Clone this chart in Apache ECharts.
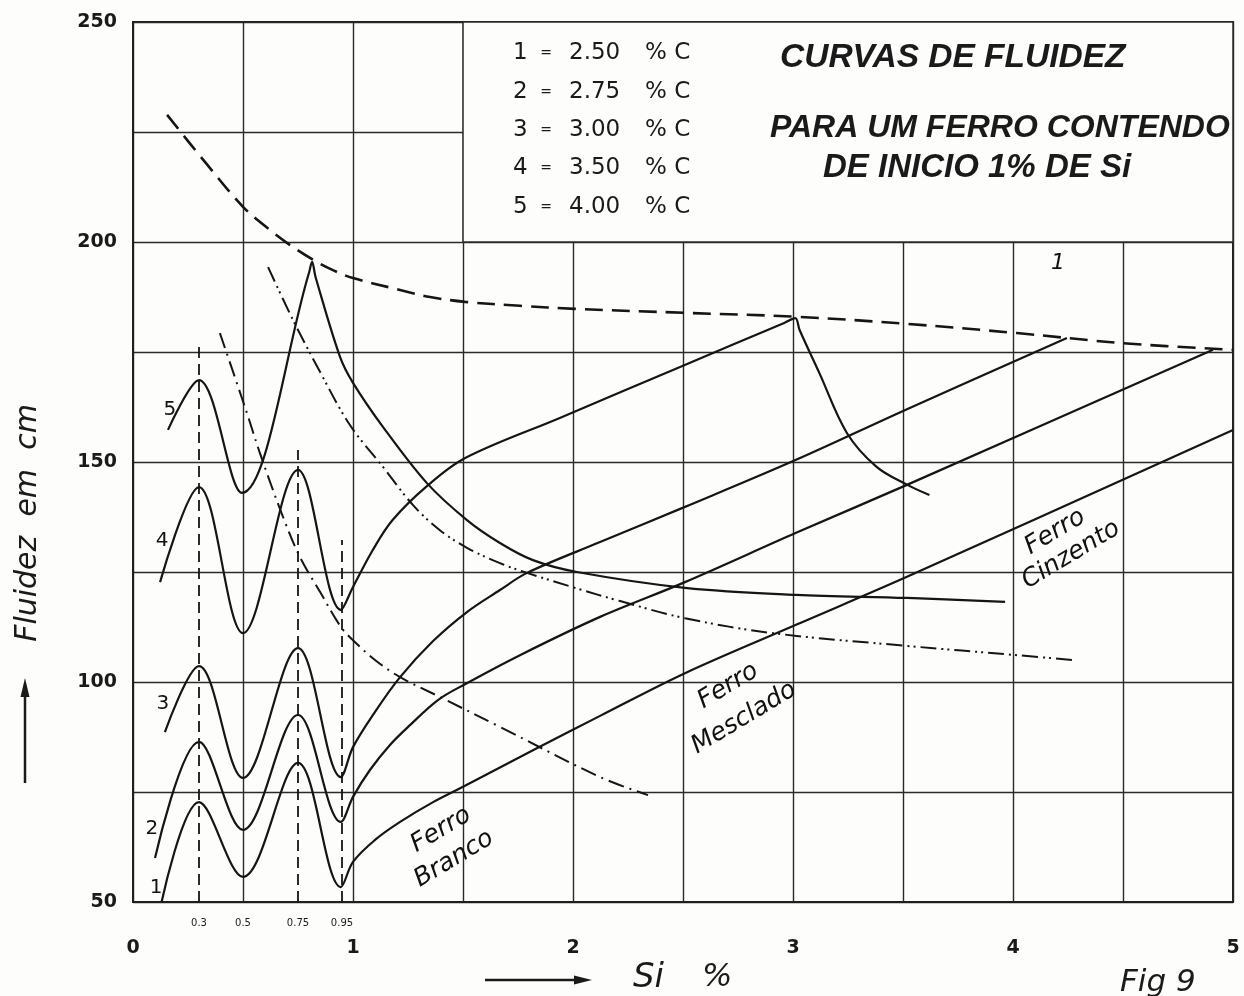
<!DOCTYPE html>
<html><head><meta charset="utf-8">
<script src="https://cdn.jsdelivr.net/npm/echarts@6/dist/echarts.min.js"></script>
<style>html,body{margin:0;padding:0;background:#fdfdfc}#c{width:1244px;height:996px}</style>
</head><body><div id="c"></div><script>
// ---- axes ----
const siMin = 0, siMax = 5, siStep = 0.5;
const fluidMin = 50, fluidMax = 250, fluidStep = 25;
const siMinorLabels = [0.3, 0.5, 0.75, 0.95];

// ---- curves for each carbon content (Si %, fluidity cm) ----
const curve1 = [[0.13,50],[0.30,72.7],[0.50,55.7],[0.75,81.6],[0.945,53.4],[1.0,59.1],[1.1,64.1],[1.214,68.2],[1.364,72.7],[1.509,76.4],[1.818,84.5],[2.123,92.3],[2.509,102.0],[3.014,113.0],[3.518,123.9],[5.0,157.3]];
const curve2 = [[0.10,60.0],[0.30,86.4],[0.50,66.4],[0.75,92.5],[0.945,68.2],[1.0,73.9],[1.077,80.0],[1.168,85.7],[1.259,90.2],[1.386,95.9],[1.509,99.5],[1.759,106.1],[2.123,114.8],[2.509,122.7],[3.014,133.9],[3.518,144.8],[4.909,175.5]];
const curve3 = [[0.145,88.6],[0.30,103.6],[0.50,78.2],[0.75,107.7],[0.945,78.4],[1.0,85.2],[1.1,93.2],[1.214,101.1],[1.364,109.3],[1.518,115.9],[1.668,120.9],[1.791,124.8],[2.123,131.8],[2.509,139.8],[3.014,150.5],[3.518,162.0],[4.245,178.2]];
const curve4 = [[0.123,122.7],[0.30,144.3],[0.50,111.1],[0.75,148.2],[0.945,116.4],[1.0,121.6],[1.09,130.0],[1.18,136.8],[1.336,144.5],[1.51,150.9],[1.94,160.0],[2.50,171.9],[2.96,181.6],[3.01,182.7],[3.03,180.0],[3.12,170.2],[3.245,156.6],[3.38,148.9],[3.52,144.8],[3.62,142.5]];
const curve5 = [[0.159,157.3],[0.30,168.6],[0.495,143.0],[0.80,193.0],[0.814,195.5],[0.83,192.0],[0.941,173.9],[1.0,168.0],[1.136,158.0],[1.336,145.2],[1.518,136.8],[1.668,131.6],[1.818,127.7],[2.018,125.0],[2.509,121.4],[3.014,119.8],[3.518,119.1],[3.964,118.2]];
const maxCurve = [[0.155,228.9],[0.327,218.2],[0.50,208.0],[0.623,202.7],[0.714,199.3],[0.814,196.1],[0.909,193.6],[1.0,191.8],[1.214,189.1],[1.35,187.5],[1.509,186.4],[1.759,185.5],[2.009,184.8],[2.509,183.9],[3.018,183.0],[3.518,181.4],[4.018,179.3],[4.5,177.0],[5.0,175.5]];
const dashDotCurve = [[0.614,194.3],[0.727,182.3],[0.850,170.5],[0.986,158.4],[1.136,148.9],[1.273,140.2],[1.395,134.5],[1.518,130.5],[1.668,127.0],[1.791,124.8],[2.009,121.4],[2.214,118.4],[2.509,114.5],[2.909,111.1],[3.518,108.2],[4.018,106.1],[4.273,105.0]];
const dashCurve = [[0.395,179.3],[0.518,161.1],[0.577,152.0],[0.682,137.5],[0.759,128.4],[0.850,120.5],[0.945,112.5],[1.0,109.5],[1.1,105.0],[1.214,101.1],[1.395,96.6],[1.668,89.8],[2.123,78.4],[2.341,74.3]];

// ---- vertical guide lines ----
const guideSi = [0.3, 0.75, 0.95];
const guideTop = [177, 152.7, 132.3];

// ---- labels ----
const curveNames = ['1','2','3','4','5'];
const curveLabelPos = [[0.105,53.2],[0.086,66.6],[0.136,95],[0.132,132],[0.168,161.8]];
const maxCurveLabel = '1';
const maxCurveLabelPos = [4.205,195.2];
const regionLabels = ['Ferro','Branco','Ferro','Mesclado','Ferro','Cinzento'];
const regionLabelPos = [[1.40,66.4],[1.459,59.8],[2.705,99.1],[2.777,91.8],[4.191,134.1],[4.264,128.9]];
const legendCarbon = ['2.50','2.75','3.00','3.50','4.00'];
const titleLines = ['CURVAS DE FLUIDEZ','PARA UM FERRO CONTENDO','DE INICIO 1% DE Si'];
const yTitle = 'Fluidez  em  cm';
const xTitle = ['Si', '%'];
const figLabel = 'Fig 9';
const boxArea = [[1.5,200],[5,250]];

const INK = '#151515';
const chart = echarts.init(document.getElementById('c'), null, {renderer:'canvas'});

function curveSeries(data, type, width) {
  return {type:'line', data, showSymbol:false, smooth:0.35, silent:true, z:4,
    lineStyle:{color:INK, width:width||2.2, type:type||'solid'}};
}
const textLabel = {show:true, position:'inside', color:'#111', opacity:1, textBorderWidth:0, fontFamily:'DejaVu Sans'};
function labelSeries(items, extra) {
  return {type:'scatter', symbolSize:0, silent:true, z:6, itemStyle:{opacity:1},
    data: items, label:Object.assign({}, textLabel, extra)};
}

const series = [
  curveSeries(curve1), curveSeries(curve2), curveSeries(curve3), curveSeries(curve4), curveSeries(curve5),
  curveSeries(maxCurve, [18,9], 2.6),
  curveSeries(dashDotCurve, [16,5,2,4,2,5], 2),
  curveSeries(dashCurve, [16,6,2,6], 2),
  {type:'line', data:[], silent:true, z:2,
   markArea:{silent:true, itemStyle:{color:'#fdfdfc', borderColor:'#2a2a2a', borderWidth:1.5},
     data:[[{coord:boxArea[0]},{coord:boxArea[1]}]]},
   markLine:{silent:true, symbol:['none','none'], label:{show:false},
     lineStyle:{color:INK, width:1.8, type:[11,6]},
     data: guideSi.map((s,i)=>[{coord:[s,fluidMin]},{coord:[s,guideTop[i]]}])}
  },
  labelSeries(curveNames.map((n,i)=>({value:curveLabelPos[i], label:{formatter:n}})), {fontSize:20}),
  labelSeries([{value:maxCurveLabelPos, label:{formatter:maxCurveLabel}}], {fontStyle:'italic', fontSize:22}),
  labelSeries(regionLabels.map((t,i)=>({value:regionLabelPos[i], label:{formatter:t}})), {rotate:31, fontStyle:'italic', fontSize:25})
];

const graphic = [];
const G = (o)=>{ o.z = 100; graphic.push(o); };
legendCarbon.forEach((c,i)=>{
  const y = [53,92,130,168,207][i];
  const st = {fontFamily:'DejaVu Sans', fontSize:23, fill:'#1a1a1a', textVerticalAlign:'middle', textAlign:'left'};
  G({type:'text', x:513, y, style:Object.assign({}, st, {text:curveNames[i]})});
  G({type:'text', x:546, y, style:Object.assign({}, st, {text:'=', textAlign:'center', fontSize:14})});
  G({type:'text', x:569, y, style:Object.assign({}, st, {text:c})});
  G({type:'text', x:645, y, style:Object.assign({}, st, {text:'% C'})});
});
const titleX = [780, 770, 823], titleY = [58, 128, 168], titleSize = [33.5, 32, 33];
titleLines.forEach((t,i)=>G({type:'text', x:titleX[i], y:titleY[i],
  style:{text:t, fontFamily:'Liberation Sans', fontStyle:'italic', fontWeight:'bold', fontSize:titleSize[i], fill:'#1a1a1a', textAlign:'left', textVerticalAlign:'middle'}}));
G({type:'text', x:28, y:523, rotation:Math.PI/2,
  style:{text:yTitle, fontFamily:'DejaVu Sans', fontStyle:'italic', fontSize:30, fill:'#1a1a1a', textAlign:'center', textVerticalAlign:'middle'}});
G({type:'line', shape:{x1:25,y1:783,x2:25,y2:692}, style:{stroke:'#1a1a1a', lineWidth:2.5}});
G({type:'polygon', shape:{points:[[25,678],[20.5,697],[29.5,697]]}, style:{fill:'#1a1a1a'}});
G({type:'line', shape:{x1:485,y1:980,x2:578,y2:980}, style:{stroke:'#1a1a1a', lineWidth:2.5}});
G({type:'polygon', shape:{points:[[592,980],[574,975.5],[574,984.5]]}, style:{fill:'#1a1a1a'}});
G({type:'text', x:633, y:978, style:{text:xTitle[0], fontFamily:'DejaVu Sans', fontStyle:'italic', fontSize:34, fill:'#1a1a1a', textAlign:'left', textVerticalAlign:'middle'}});
G({type:'text', x:702, y:978, style:{text:xTitle[1], fontFamily:'DejaVu Sans', fontStyle:'italic', fontSize:32, fill:'#1a1a1a', textAlign:'left', textVerticalAlign:'middle'}});
G({type:'text', x:1120, y:967, style:{text:figLabel, fontFamily:'DejaVu Sans', fontStyle:'italic', fontSize:31, fill:'#1a1a1a', textAlign:'left', textVerticalAlign:'top'}});

const isMinor = v => siMinorLabels.some(t=>Math.abs(t-v)<1e-6);

chart.setOption({
  animation:false,
  backgroundColor:'#fdfdfc',
  grid:{left:133, right:11, top:22, bottom:94, show:true, borderColor:'#1f1f1f', borderWidth:2, backgroundColor:'#fdfdfc'},
  xAxis:[
    {type:'value', min:siMin, max:siMax, interval:siStep,
     axisLine:{show:true, lineStyle:{color:'#1f1f1f', width:2}}, axisTick:{show:false},
     splitLine:{show:true, lineStyle:{color:'#2a2a2a', width:1.4}},
     axisLabel:{margin:37, fontFamily:'DejaVu Sans', fontWeight:'bold', fontSize:19, color:'#1a1a1a',
       formatter:v=>Number.isInteger(v)?String(v):''}},
    {type:'value', min:siMin, max:siMax, interval:0.05, position:'bottom',
     axisLine:{show:false}, axisTick:{show:false}, splitLine:{show:false},
     axisLabel:{margin:16, fontFamily:'DejaVu Sans', fontSize:10, color:'#1a1a1a',
       formatter:v=>isMinor(v)?String(+v.toFixed(2)):''}}
  ],
  yAxis:{type:'value', min:fluidMin, max:fluidMax, interval:fluidStep,
    axisLine:{show:true, lineStyle:{color:'#1f1f1f', width:2}}, axisTick:{show:false},
    splitLine:{show:true, lineStyle:{color:'#2a2a2a', width:1.4}},
    axisLabel:{margin:16, fontFamily:'DejaVu Sans', fontWeight:'bold', fontSize:19, color:'#1a1a1a',
      formatter:v=>(v%50===0)?String(v):''}},
  series,
  graphic
});
</script></body></html>
